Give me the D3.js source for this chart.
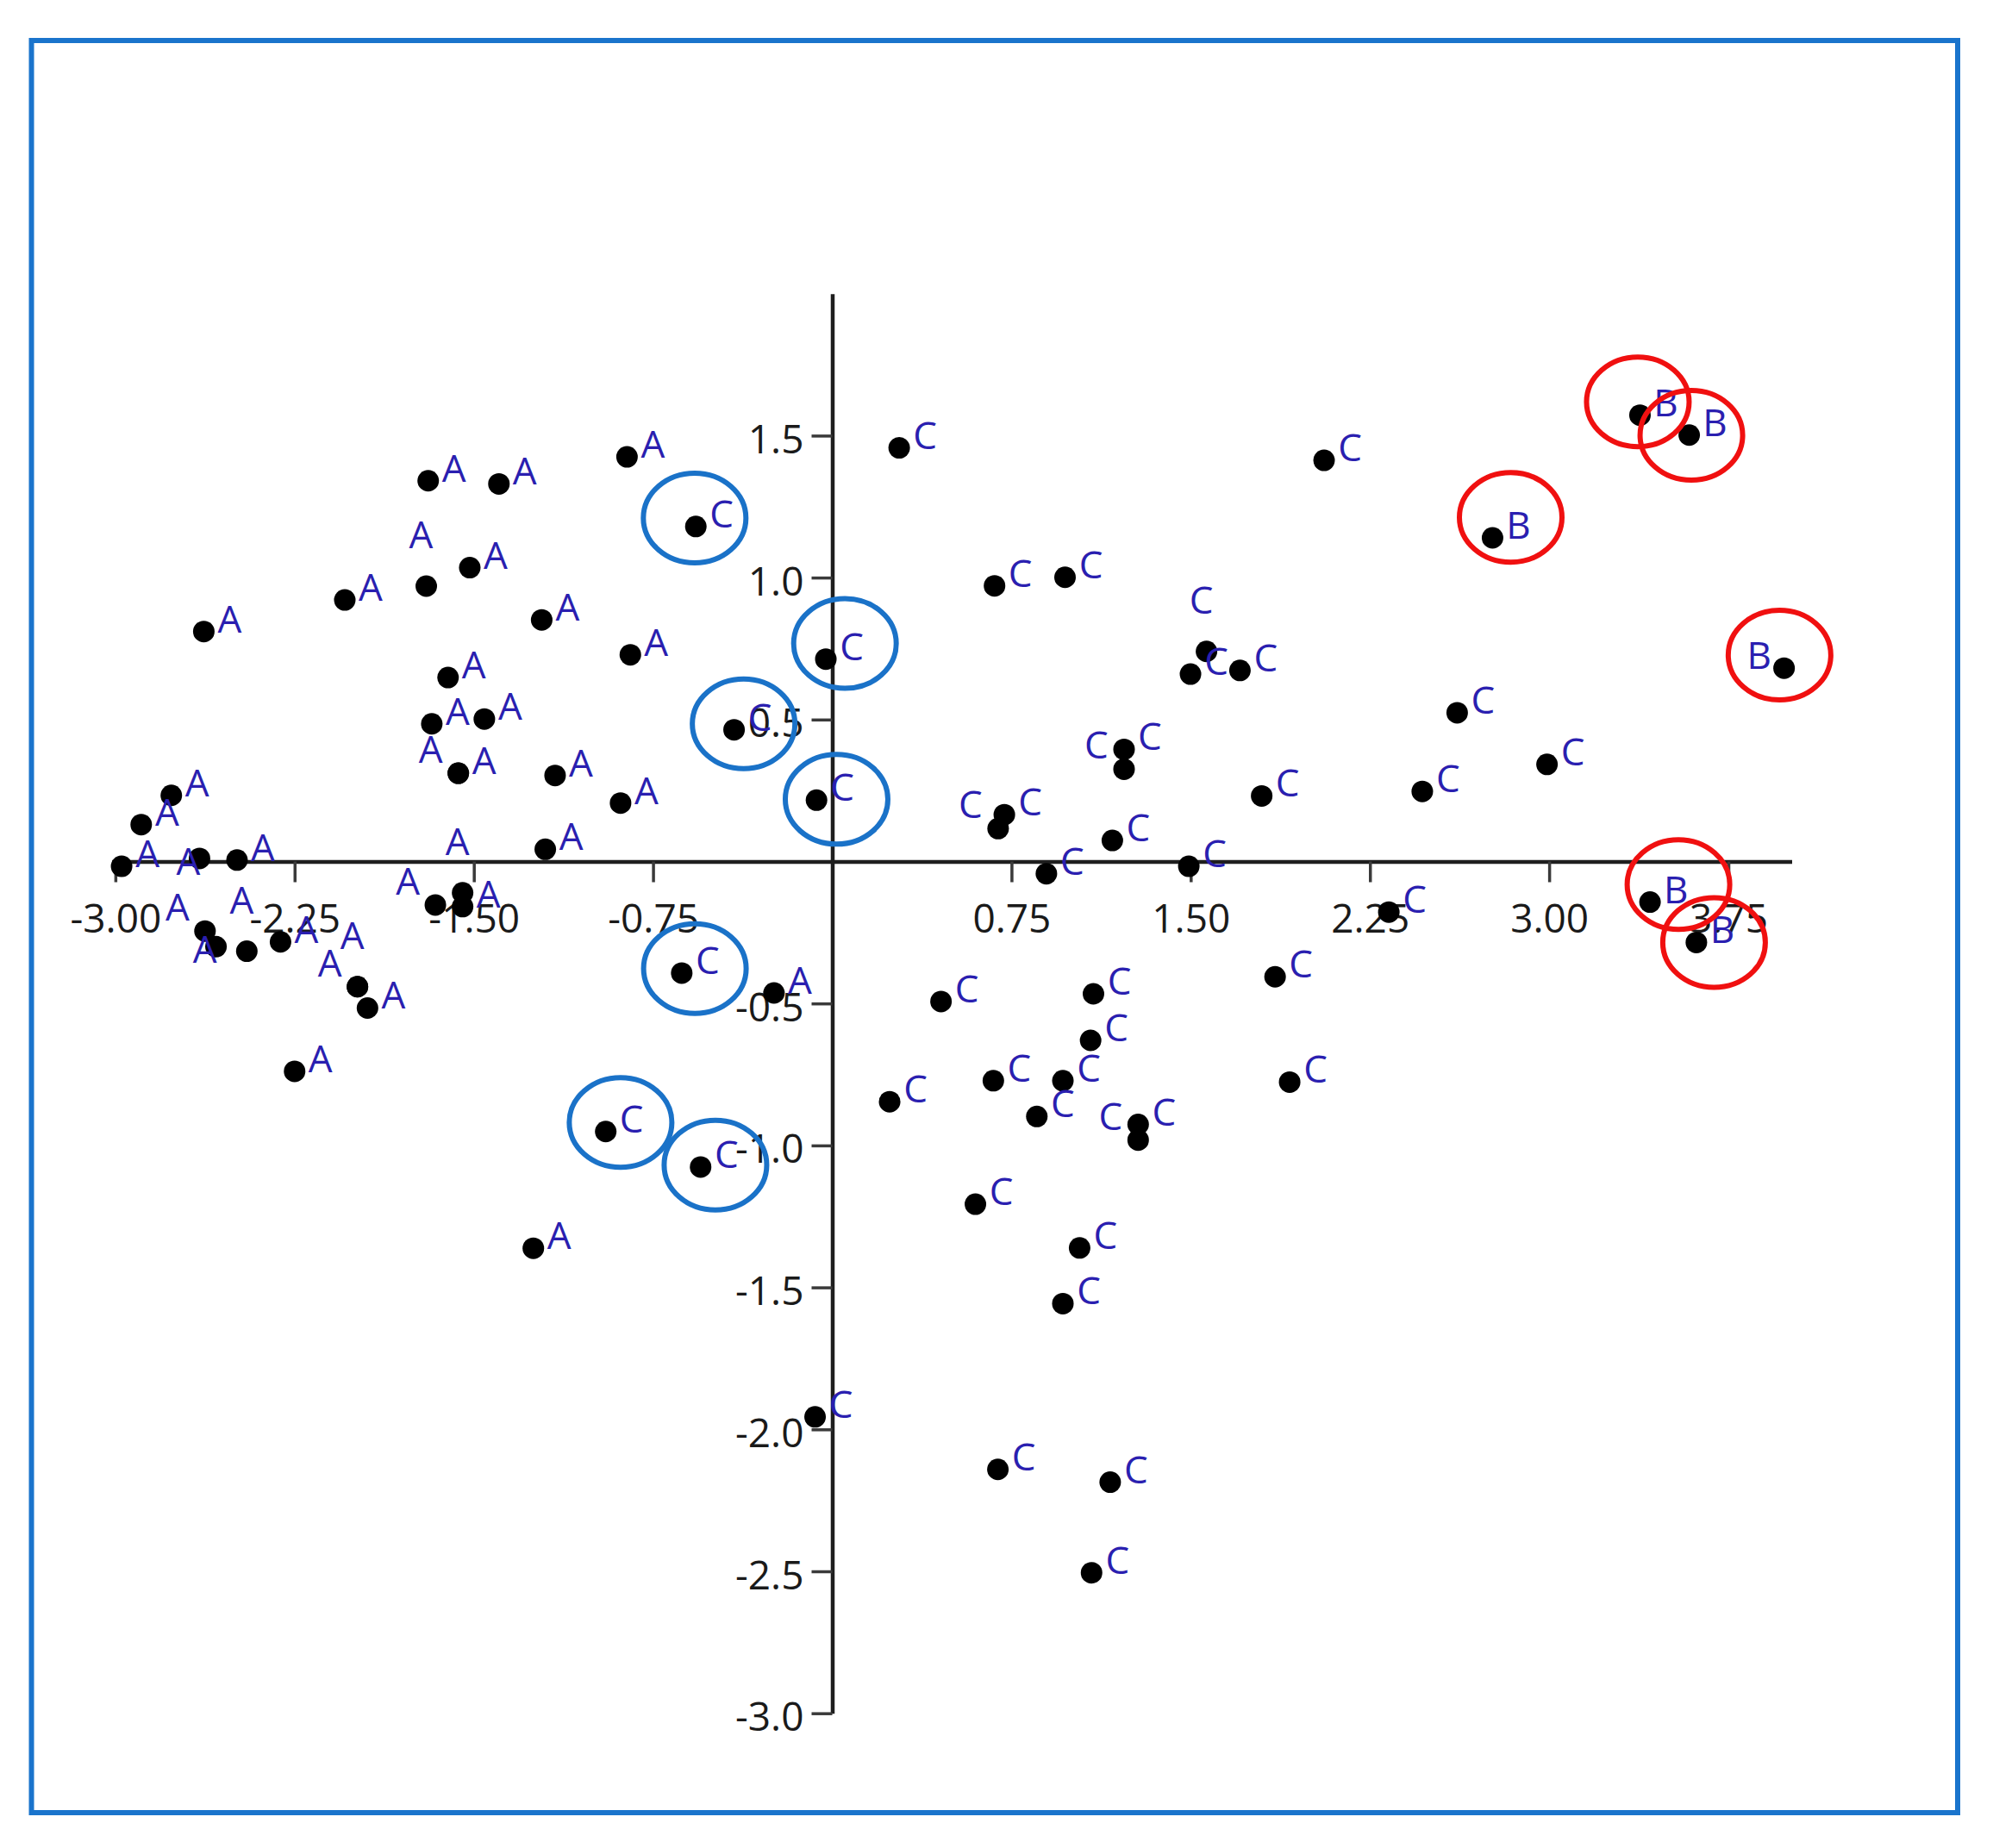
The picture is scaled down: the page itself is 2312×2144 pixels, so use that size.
<!DOCTYPE html>
<html>
<head>
<meta charset="utf-8">
<script src="https://cdn.jsdelivr.net/npm/d3@7"></script>
<style>
  html, body { margin: 0; padding: 0; background: #ffffff; }
  svg { display: block; }
</style>
</head>
<body>
<svg id="chart" width="2312" height="2144"></svg>
<script>
// ---------------- data ----------------
const xTicks = [-3.00, -2.25, -1.50, -0.75, 0.75, 1.50, 2.25, 3.00, 3.75];
const yTicks = [1.5, 1.0, 0.5, -0.5, -1.0, -1.5, -2.0, -2.5, -3.0];
const xExtent = [-3.015, 4.015];
const yExtent = [-3.0, 2.0];

// group A
const aX = [-0.859,-1.691,-1.395,-1.517,-1.699,-2.040,-1.216,-2.630,-0.845,-1.608,-1.676,-1.456,-1.565,-1.565,-1.160,-0.886,-1.201,-2.766,-2.892,-2.974,-2.648,-2.491,-1.661,-1.547,-1.547,-2.625,-2.579,-2.450,-2.309,-1.987,-1.987,-1.945,-2.250,-1.251,-0.244];
const aY = [1.425,1.341,1.330,1.035,0.970,0.921,0.851,0.810,0.728,0.648,0.485,0.502,0.311,0.311,0.303,0.206,0.043,0.233,0.130,-0.017,0.011,0.005,-0.153,-0.110,-0.159,-0.245,-0.300,-0.316,-0.283,-0.441,-0.441,-0.516,-0.739,-1.362,-0.463];
const aPos = ['ne','ne','ne','ne','n','ne','ne','ne','ne','ne','ne','ne','ne','nw','ne','ne','ne','ne','ne','ne','o','ne','nw','n','ne','nw','o','n','ne','n','nw','ne','ne','ne','ne'];

// group B
const bX = [3.380, 3.586, 2.763, 3.983, 3.422, 3.616];
const bY = [1.572, 1.502, 1.140, 0.681, -0.143, -0.285];
const bPos = ['ne','ne','ne','w','ne','ne'];

// group C
const cX = [0.280,-0.571,0.679,0.974,-0.027,-0.411,-0.066,1.499,1.566,1.706,1.221,1.221,0.720,0.694,1.172,0.896,1.492,2.058,2.615,2.991,1.797,2.469,2.329,1.853,1.914,-0.630,0.455,1.093,1.081,0.674,0.965,0.240,0.856,1.280,1.280,-0.948,-0.551,0.599,1.035,0.965,-0.072,0.693,1.163,1.085];
const cY = [1.457,1.180,0.971,1.001,0.713,0.464,0.216,0.660,0.740,0.673,0.395,0.325,0.165,0.116,0.074,-0.043,-0.017,1.413,0.524,0.342,0.231,0.247,-0.178,-0.406,-0.777,-0.393,-0.493,-0.466,-0.630,-0.772,-0.772,-0.846,-0.898,-0.926,-0.981,-0.951,-1.076,-1.207,-1.361,-1.557,-1.956,-2.141,-2.186,-2.505];
const cPos = ['ne','ne','ne','ne','ne','ne','ne','ne','n','ne','ne','nw','ne','nw','ne','ne','ne','ne','ne','ne','ne','ne','ne','ne','ne','ne','ne','ne','ne','ne','ne','ne','ne','ne','nw','ne','ne','ne','ne','ne','ne','ne','ne','ne'];

// highlight rings (centres in data units)
const blueRingX = [-0.576, 0.053, -0.371, 0.018, -0.575, -0.886, -0.489];
const blueRingY = [1.210, 0.768, 0.485, 0.219, -0.377, -0.919, -1.069];
const redRingX = [3.371, 3.595, 2.839, 3.964, 3.541, 3.690];
const redRingY = [1.619, 1.501, 1.212, 0.727, -0.081, -0.285];

// ---------------- drawing ----------------
const svg = d3.select('#chart');
const W = 2312, H = 2144;
svg.append('rect').attr('width', W).attr('height', H).attr('fill', '#ffffff');

const x = d3.scaleLinear().domain(xExtent).range([129.7, 2078.5]);
const y = d3.scaleLinear().domain(yExtent).range([1987.7, 340.7]);

const FONT = "'Open Sans', 'Noto Sans', 'DejaVu Sans', sans-serif";

// axes
const xAxis = d3.axisBottom(x).tickValues(xTicks).tickSize(24).tickSizeOuter(0)
  .tickFormat(d => d.toFixed(2));
const yAxis = d3.axisLeft(y).tickValues(yTicks).tickSize(24).tickSizeOuter(0)
  .tickFormat(d => d.toFixed(1));

const gx = svg.append('g').attr('transform', `translate(0,${y(0)})`).call(xAxis);
const gy = svg.append('g').attr('transform', `translate(${x(0)},0)`).call(yAxis);

[gx, gy].forEach(g => {
  g.select('.domain').attr('stroke', '#1e1e1e').attr('stroke-width', 4.5);
  g.selectAll('.tick line').attr('stroke', '#3a3a3a').attr('stroke-width', 3.5);
  g.selectAll('.tick text')
    .attr('fill', '#1a1a1a')
    .style('font-family', FONT)
    .style('font-size', '46px');
});
gx.selectAll('.tick text').attr('y', 82).attr('dy', 0);
gy.selectAll('.tick text').attr('x', -33).attr('y', 20).attr('dy', 0);

// points
const offsets = {
  ne: [30, -15],
  n: [-6, -60],
  nw: [-32, -28],
  o: [-13, 3],
  w: [-29, -15]
};

function build(xs, ys, pos, label) {
  return xs.map((v, i) => ({ x: v, y: ys[i], pos: pos[i], label }));
}
const points = [].concat(
  build(aX, aY, aPos, 'A'),
  build(bX, bY, bPos, 'B'),
  build(cX, cY, cPos, 'C')
);

svg.append('g').selectAll('circle').data(points).join('circle')
  .attr('cx', d => x(d.x))
  .attr('cy', d => y(d.y))
  .attr('r', 12.5)
  .attr('fill', '#000000');

svg.append('g').selectAll('text').data(points).join('text')
  .attr('x', d => x(d.x) + offsets[d.pos][0])
  .attr('y', d => y(d.y) + offsets[d.pos][1] + 16)
  .attr('text-anchor', 'middle')
  .attr('fill', '#2a1fb0')
  .style('font-family', FONT)
  .style('font-size', '44px')
  .text(d => d.label);

// rings
const rings = [].concat(
  blueRingX.map((v, i) => ({ x: v, y: blueRingY[i], c: '#1a72c8' })),
  redRingX.map((v, i) => ({ x: v, y: redRingY[i], c: '#f01010' }))
);
svg.append('g').selectAll('ellipse').data(rings).join('ellipse')
  .attr('cx', d => x(d.x))
  .attr('cy', d => y(d.y))
  .attr('rx', 59.5)
  .attr('ry', 52)
  .attr('fill', 'none')
  .attr('stroke', d => d.c)
  .attr('stroke-width', 6);

// frame
svg.append('rect')
  .attr('x', 36.5).attr('y', 47)
  .attr('width', 2234.5).attr('height', 2056)
  .attr('fill', 'none')
  .attr('stroke', '#1a74cc')
  .attr('stroke-width', 6);
</script>
</body>
</html>
